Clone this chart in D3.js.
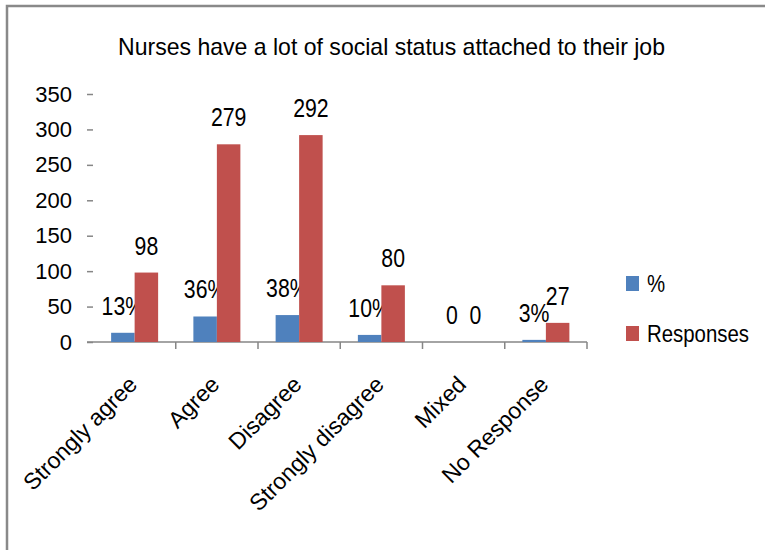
<!DOCTYPE html>
<html><head><meta charset="utf-8">
<script src="https://cdn.jsdelivr.net/npm/d3@7"></script>
<style>body{margin:0;background:#fff}svg{display:block;font-family:"Liberation Sans",Arial,sans-serif}</style>
</head><body>
<svg id="c" width="765" height="550"></svg>
<script>
const categories = ["Strongly agree","Agree","Disagree","Strongly disagree","Mixed","No Response"];
const seriesNames = ["%","Responses"];
const percentValues = [13,36,38,10,0,3];
const responseValues = [98,279,292,80,0,27];
const yTicks = [0,50,100,150,200,250,300,350];
const title = "Nurses have a lot of social status attached to their job";
const colors = ["#4F81BD","#C0504D"];

const svg = d3.select("#c");
svg.append("rect").attr("x",7).attr("y",6).attr("width",800).attr("height",600)
  .attr("fill","#fff").attr("stroke","#898989").attr("stroke-width",2.5);

const x = d3.scaleBand().domain(categories).range([93.5,587]).paddingInner(0).paddingOuter(0);
const xs = d3.scaleBand().domain(seriesNames).range([0,x.bandwidth()]).paddingInner(0).paddingOuter(0.75);
const y = d3.scaleLinear().domain([0,350]).range([342,94]);

// title
svg.append("text").attr("x",391.5).attr("y",55).attr("text-anchor","middle")
  .attr("font-size",24).attr("textLength",547).attr("lengthAdjust","spacingAndGlyphs").text(title);

// y axis
const ya = svg.append("g").attr("transform","translate(93,0)")
  .call(d3.axisLeft(y).tickValues(yTicks).tickSize(6).tickPadding(15));
ya.select(".domain").remove();
ya.selectAll(".tick line").attr("stroke","#868686").attr("stroke-width",1.5);
ya.selectAll(".tick text").attr("font-size",22).attr("fill","#000").attr("font-family","Liberation Sans, Arial, sans-serif");

// x axis line & ticks
svg.append("line").attr("x1",87).attr("x2",x.range()[1]).attr("y1",y(0)).attr("y2",y(0))
  .attr("stroke","#868686").attr("stroke-width",1.5);
svg.append("g").selectAll("line").data(categories).join("line")
  .attr("x1",d=>x(d)+x.bandwidth()).attr("x2",d=>x(d)+x.bandwidth())
  .attr("y1",y(0)).attr("y2",y(0)+7).attr("stroke","#868686").attr("stroke-width",1.5);

const series = [percentValues,responseValues];
const fmt = [v=> v===0 ? "0" : v+"%", v=> String(v)];
series.forEach((vals,si)=>{
  const g = svg.append("g");
  g.selectAll("rect").data(categories).join("rect")
    .attr("x",(d)=>x(d)+xs(seriesNames[si])).attr("width",xs.bandwidth())
    .attr("y",(d,i)=>y(vals[i])).attr("height",(d,i)=>y(0)-y(vals[i]))
    .attr("fill",colors[si]);
  g.selectAll("text").data(categories).join("text")
    .attr("transform",(d,i)=>`translate(${x(d)+xs(seriesNames[si])+xs.bandwidth()/2},${y(vals[i])-18}) scale(0.85,1)`)
    .attr("text-anchor","middle").attr("font-size",25).attr("fill","#000")
    .text((d,i)=>fmt[si](vals[i]));
});

// category labels
svg.append("g").selectAll("text").data(categories).join("text")
  .attr("transform",d=>`translate(${x(d)+x.bandwidth()/2+4},386) rotate(-45)`)
  .attr("text-anchor","end").attr("font-size",23).attr("fill","#000").text(d=>d);

// legend
const lg = svg.append("g");
seriesNames.forEach((s,i)=>{
  lg.append("rect").attr("x",626).attr("y",276+i*50).attr("width",13).attr("height",15).attr("fill",colors[i]);
  lg.append("text").attr("transform",`translate(647,${292+i*50}) scale(0.85,1)`)
    .attr("font-size",24).attr("fill","#000").text(s);
});
</script>
</body></html>
